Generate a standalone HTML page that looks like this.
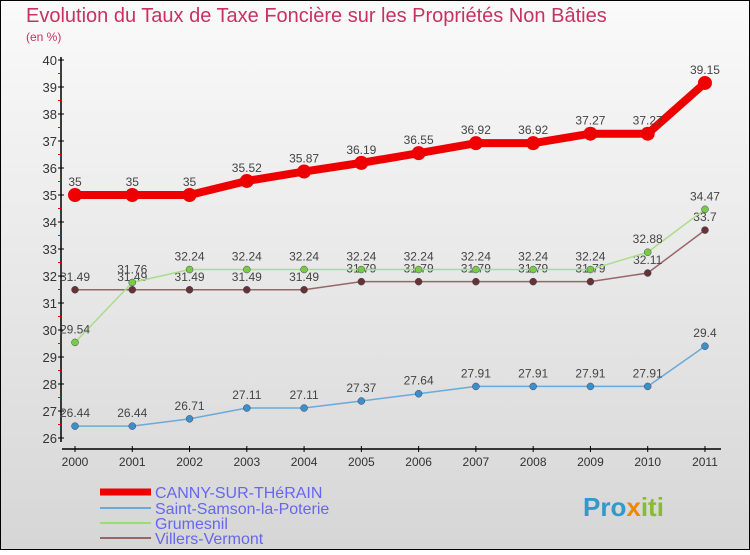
<!DOCTYPE html>
<html><head><meta charset="utf-8"><style>
body{margin:0;width:750px;height:550px;overflow:hidden;font-family:"Liberation Sans",sans-serif}
</style></head><body>
<svg id="c" width="750" height="550" xmlns="http://www.w3.org/2000/svg">
<defs><linearGradient id="bg" x1="0" y1="0" x2="0" y2="1"><stop offset="0" stop-color="#fafafa"/><stop offset="1" stop-color="#d6d6d6"/></linearGradient></defs>
<rect x="0.5" y="0.5" width="749" height="549" fill="url(#bg)" stroke="#000"/>
<text x="26" y="22" font-size="20" fill="#c8325f">Evolution du Taux de Taxe Foncière sur les Propriétés Non Bâties</text>
<text x="26" y="41" font-size="12" fill="#c8325f">(en %)</text>
<g id="axes"></g><g id="series"></g>
<g>
<line x1="100" y1="492" x2="151" y2="492" stroke="#e00" stroke-width="7"/>
<text x="155" y="498" font-size="16" fill="#6666ee">CANNY-SUR-THéRAIN</text>
<line x1="100" y1="508" x2="151" y2="508" stroke="#6aaad8" stroke-width="2"/>
<text x="155" y="514" font-size="16" fill="#6666ee">Saint-Samson-la-Poterie</text>
<line x1="100" y1="523" x2="151" y2="523" stroke="#99dd77" stroke-width="2"/>
<text x="155" y="529" font-size="16" fill="#6666ee">Grumesnil</text>
<line x1="100" y1="538" x2="151" y2="538" stroke="#996666" stroke-width="2"/>
<text x="155" y="544" font-size="16" fill="#6666ee">Villers-Vermont</text>
</g>
<text x="583" y="516" font-size="26" font-weight="bold" fill="#3399cc">Pro<tspan fill="#ee8800">x</tspan><tspan fill="#88bb33">iti</tspan></text>
</svg>
<script>
const years=["2000","2001","2002","2003","2004","2005","2006","2007","2008","2009","2010","2011"];
const yTicks=[26,27,28,29,30,31,32,33,34,35,36,37,38,39,40];
const canny=[35,35,35,35.52,35.87,36.19,36.55,36.92,36.92,37.27,37.27,39.15];
const samson=[26.44,26.44,26.71,27.11,27.11,27.37,27.64,27.91,27.91,27.91,27.91,29.4];
const grumesnil=[29.54,31.76,32.24,32.24,32.24,32.24,32.24,32.24,32.24,32.24,32.88,34.47];
const villers=[31.49,31.49,31.49,31.49,31.49,31.79,31.79,31.79,31.79,31.79,32.11,33.7];
const NS="http://www.w3.org/2000/svg";
const x=i=>75+i*57.27, y=v=>60+(40-v)*27;
function mk(t,a,p){const e=document.createElementNS(NS,t);for(const k in a)e.setAttribute(k,a[k]);p.appendChild(e);return e;}
const ax=document.getElementById('axes'), sg=document.getElementById('series');
let l=mk('line',{x1:61,y1:57,x2:61,y2:442,stroke:'#000','stroke-width':1.5},ax);


l=mk('line',{x1:62,y1:449,x2:721,y2:449,stroke:'#000','stroke-width':1.5},ax);


yTicks.forEach(v=>{
  mk('line',{x1:58,y1:y(v),x2:64,y2:y(v),stroke:'#000'},ax);
  if(v<40) mk('line',{x1:58,y1:y(v+0.5),x2:61,y2:y(v+0.5),stroke:'#e00'},ax);
  const t=mk('text',{x:57,y:y(v)+5,'font-size':13,'text-anchor':'end',fill:'#333'},ax);t.textContent=v;
  
  
});
years.forEach((yr,i)=>{
  mk('line',{x1:x(i),y1:446,x2:x(i),y2:452,stroke:'#000'},ax);
  const t=mk('text',{x:x(i),y:466,'font-size':12,'text-anchor':'middle',fill:'#333'},ax);t.textContent=yr;
  
  
});
function series(d,col,dot,w,r,name,fs){
  const g=mk('g',{},sg);
  
  
  mk('polyline',{points:d.map((v,i)=>x(i)+','+y(v)).join(' '),fill:'none',stroke:col,'stroke-width':w,'stroke-linejoin':'round'},g);
  d.forEach((v,i)=>{
    const c=mk('circle',{cx:x(i),cy:y(v),r:r,fill:dot,stroke:w>3?'none':'#446','stroke-width':0.5},g);
    
    
    const t=mk('text',{x:x(i),y:y(v)-9,'font-size':fs,'text-anchor':'middle',fill:'#444'},g);t.textContent=v;
    
    
  });
}
series(villers,'#996666','#663333',1.5,3.5,'villers',12);
series(grumesnil,'#aadd88','#77cc44',1.5,3.5,'grumesnil',12);
series(samson,'#6aaad8','#3d8fc8',1.5,3.5,'saint-samson',12);
series(canny,'#ee0000','#ee0000',8,7,'canny',12);
</script>
</body></html>
